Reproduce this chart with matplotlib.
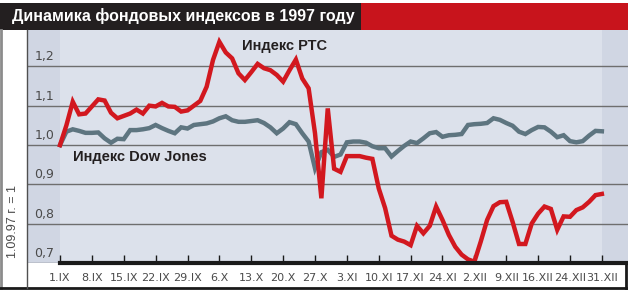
import matplotlib.pyplot as plt
from matplotlib.patches import Rectangle
from matplotlib.lines import Line2D

# trading-day index 0..85, weekly ticks every 5 days
tick_days = list(range(0, 86, 5))
tick_labels = ['1.IX', '8.IX', '15.IX', '22.IX', '29.IX', '6.X', '13.X', '20.X', '27.X',
               '3.XI', '10.XI', '17.XI', '24.XI', '2.XII', '9.XII', '16.XII', '24.XII', '31.XII']

days = list(range(86))

rts = [1.000, 1.050, 1.110, 1.078, 1.080, 1.098, 1.116, 1.113, 1.082, 1.068,
       1.074, 1.080, 1.090, 1.080, 1.100, 1.098, 1.107, 1.098, 1.097, 1.085,
       1.088, 1.100, 1.112, 1.148, 1.216, 1.262, 1.235, 1.220, 1.182, 1.165,
       1.185, 1.206, 1.195, 1.190, 1.178, 1.161, 1.190, 1.217, 1.169, 1.144,
       1.030, 0.865, 1.093, 0.940, 0.932, 0.972, 0.972, 0.972, 0.968, 0.965,
       0.890, 0.840, 0.770, 0.760, 0.755, 0.746, 0.795, 0.776, 0.795, 0.844,
       0.810, 0.772, 0.742, 0.722, 0.710, 0.704, 0.755, 0.810, 0.845, 0.855,
       0.856, 0.805, 0.749, 0.749, 0.801, 0.826, 0.844, 0.838, 0.785, 0.819,
       0.818, 0.835, 0.842, 0.856, 0.873, 0.876]

dow = [1.000, 1.034, 1.040, 1.036, 1.031, 1.031, 1.032, 1.017, 1.006, 1.016,
       1.015, 1.038, 1.038, 1.040, 1.043, 1.051, 1.043, 1.036, 1.030, 1.045,
       1.042, 1.051, 1.053, 1.055, 1.060, 1.068, 1.073, 1.063, 1.059, 1.059,
       1.061, 1.063, 1.056, 1.045, 1.030, 1.042, 1.058, 1.053, 1.030, 1.009,
       0.941, 0.982, 0.988, 0.970, 0.976, 1.007, 1.009, 1.009, 1.006, 0.997,
       0.992, 0.992, 0.971, 0.985, 0.998, 1.009, 1.005, 1.017, 1.030, 1.033,
       1.021, 1.025, 1.026, 1.028, 1.051, 1.053, 1.054, 1.056, 1.068, 1.064,
       1.056, 1.049, 1.034, 1.028, 1.038, 1.046, 1.045, 1.034, 1.020, 1.025,
       1.010, 1.007, 1.010, 1.024, 1.036, 1.035]

y_ticks = [0.7, 0.8, 0.9, 1.0, 1.1, 1.2]

W, H = 628, 290
fig = plt.figure(figsize=(W / 100, H / 100), dpi=100)

# title bar
fig.patches.append(Rectangle((0, 1 - 30 / H), 361 / W, 27 / H, transform=fig.transFigure,
                             facecolor='#231f20', edgecolor='none'))
fig.patches.append(Rectangle((361 / W, 1 - 30 / H), 1 - 361 / W, 27 / H, transform=fig.transFigure,
                             facecolor='#c8141c', edgecolor='none'))
fig.text(12 / W, 1 - 16.5 / H, 'Динамика фондовых индексов в 1997 году', color='white',
         fontsize=11.5, fontweight='bold', family='Liberation Sans', va='center', ha='left')

# frame pieces
fig.add_artist(Line2D([1 / W, 1 / W], [2 / H, 1 - 30 / H], transform=fig.transFigure,
                      color='#8c8c8c', lw=2))
fig.add_artist(Line2D([0, 1], [2 / H, 2 / H], transform=fig.transFigure, color='#1a1a1a', lw=2))
fig.add_artist(Line2D([626 / W, 626 / W], [2 / H, (H - 263.3) / H], transform=fig.transFigure,
                      color='#1a1a1a', lw=2))
fig.add_artist(Line2D([27 / W, 27 / W], [2 / H, 1 - 30 / H], transform=fig.transFigure,
                      color='#505050', lw=1))

fig.text(13 / W, (H - 222) / H, '1.09.97 г. = 1', rotation=90, color='#4a4a4a', fontsize=9,
         family='Liberation Sans', ha='center', va='center')

ax = fig.add_axes([27.5 / W, (H - 263.3) / H, (W - 27.5) / W, 233.3 / H])
ax.set_facecolor('#d0d6e3')
ax.set_xlim(-5.1, 89.1)
ax.set_ylim(0.7, 1.292)
ax.axvspan(0, 85, color='#dce1eb', lw=0, zorder=0)

for v in y_ticks:
    ax.axhline(v, color='#6e6e6e', lw=1, zorder=1)
    ax.text(-4.0, v + 0.008, f'{v:.1f}'.replace('.', ','), color='#4a4a4a', fontsize=9,
            family='Liberation Sans Narrow', ha='left', va='bottom')

ax.plot(days, dow, color='#5e7580', lw=3.2, solid_joinstyle='miter', zorder=3)
ax.plot(days, rts, color='#d2181f', lw=3.2, solid_joinstyle='miter', zorder=4)

ax.text(28.5, 1.252, 'Индекс РТС', color='#231f20', fontsize=10.5, fontweight='bold',
        family='Liberation Sans', ha='left', va='center')
ax.text(2.0, 0.970, 'Индекс Dow Jones', color='#231f20', fontsize=10.5, fontweight='bold',
        family='Liberation Sans', ha='left', va='center')

# thick x axis line
ax.plot([0, 89.1], [0.7, 0.7], color='#1a1a1a', lw=3, clip_on=False, zorder=5)

ax.set_xticks(tick_days)
ax.set_xticklabels(tick_labels, fontsize=8, color='#4a4a4a', family='Liberation Sans Narrow')
ax.tick_params(axis='x', direction='in', length=6, width=1, color='#1a1a1a', pad=7)
ax.set_yticks([])
for s in ax.spines.values():
    s.set_visible(False)

fig.savefig('out.png', dpi=100)
